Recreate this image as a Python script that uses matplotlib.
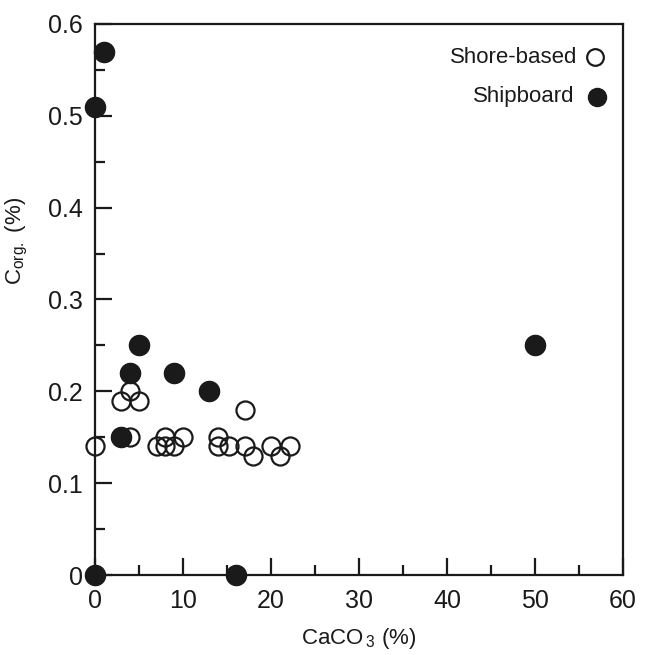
import matplotlib
matplotlib.use("Agg")
import matplotlib.pyplot as plt
from matplotlib.ticker import MultipleLocator, FuncFormatter

plt.rcParams['font.family'] = ['Liberation Sans', 'DejaVu Sans']
plt.rcParams['mathtext.fontset'] = 'custom'
plt.rcParams['mathtext.rm'] = 'Liberation Sans'

# Shore-based (open circles)
shore_caco3 = [0, 3, 4, 5, 4, 7, 8, 9, 8, 10, 14, 14, 15.2, 17, 17, 18, 20, 21, 22.2]
shore_corg = [0.14, 0.19, 0.20, 0.19, 0.15, 0.14, 0.14, 0.14, 0.15, 0.15, 0.15, 0.14, 0.14, 0.18, 0.14, 0.13, 0.14, 0.13, 0.14]

# Shipboard (filled circles)
ship_caco3 = [1, 0, 0, 16, 5, 4, 9, 13, 3, 50]
ship_corg = [0.57, 0.51, 0.0, 0.0, 0.25, 0.22, 0.22, 0.20, 0.15, 0.25]

xticks = [0, 10, 20, 30, 40, 50, 60]
yticks = [0, 0.1, 0.2, 0.3, 0.4, 0.5, 0.6]
legend_labels = ['Shore-based', 'Shipboard']

ink = '#1a1a1a'
fig = plt.figure(figsize=(6.54, 6.55), dpi=100)
ax = fig.add_axes([0.1453, 0.1221, 0.8073, 0.8413])

ax.plot(ship_caco3, ship_corg, 'o', ms=14.5, mfc=ink, mec=ink,
        clip_on=False, zorder=3)
ax.plot(shore_caco3, shore_corg, 'o', ms=13, mfc='none', mec=ink, mew=1.6,
        clip_on=False, zorder=4)

ax.set_xlim(0, 60)
ax.set_ylim(0, 0.6)
ax.set_xticks(xticks)
ax.set_yticks(yticks)
ax.xaxis.set_minor_locator(MultipleLocator(5))
ax.yaxis.set_minor_locator(MultipleLocator(0.05))
ax.yaxis.set_major_formatter(FuncFormatter(lambda v, p: '0' if v == 0 else f'{v:.1f}'))

for s in ax.spines.values():
    s.set_linewidth(1.6)
    s.set_color(ink)
ax.tick_params(which='both', direction='in', top=False, right=False, color=ink, width=1.6,
               labelcolor=ink)
ax.tick_params(which='major', length=12, labelsize=18)
ax.tick_params(axis='y', which='major', pad=9)
ax.tick_params(axis='x', which='major', pad=10)
ax.tick_params(which='minor', length=7)

ax.set_xlabel(r'CaCO$_{\,3}$ (%)', fontsize=16, color=ink)
ax.xaxis.set_label_coords(0.5, -0.093)
ax.set_ylabel(r'C$_{\rm org.}$ (%)', fontsize=16, color=ink)
ax.yaxis.set_label_coords(-0.124, 0.606)

# legend (text with marker on the right)
ax.text(0.913, 0.940, legend_labels[0], transform=ax.transAxes, ha='right', va='center',
        fontsize=16, color=ink)
ax.plot([0.947], [0.940], 'o', ms=12, mfc='none', mec=ink, mew=1.6, transform=ax.transAxes)
ax.text(0.909, 0.8675, legend_labels[1], transform=ax.transAxes, ha='right', va='center',
        fontsize=16, color=ink)
ax.plot([0.951], [0.8675], 'o', ms=13, mfc=ink, mec=ink, transform=ax.transAxes)

fig.savefig('out.png', dpi=100)
